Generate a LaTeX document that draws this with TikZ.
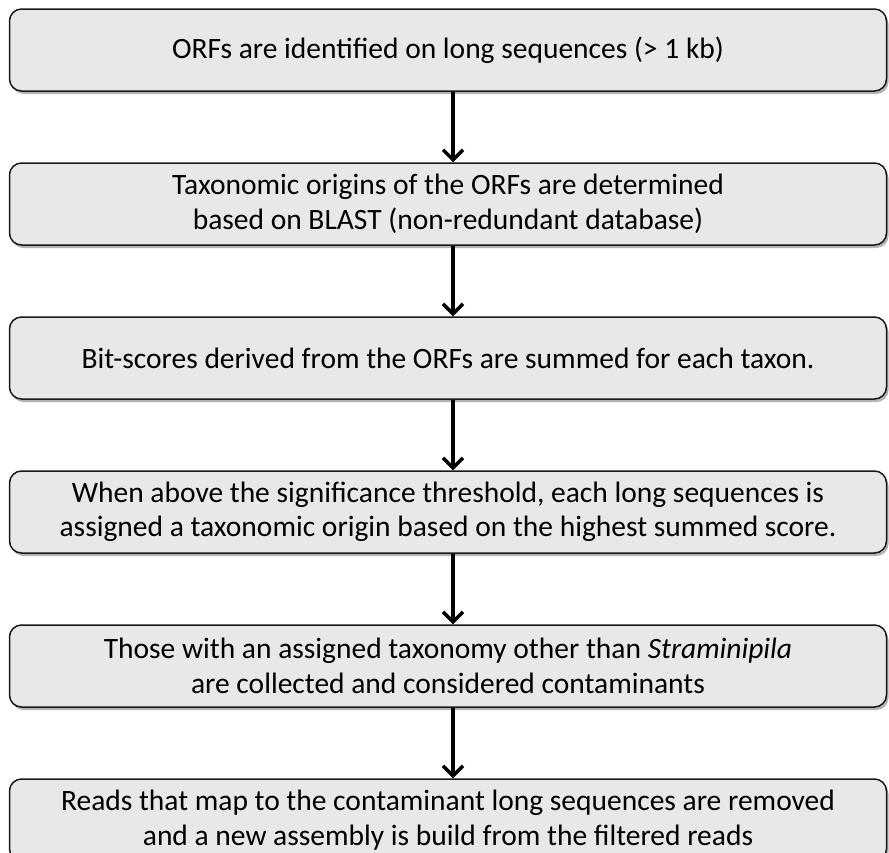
\documentclass[tikz,border=0pt]{standalone}
\usepackage{fontspec}
\setmainfont{Carlito}
\usetikzlibrary{arrows.meta,positioning,shadows}
\definecolor{boxgray}{RGB}{231,232,233}

\begin{document}
\begin{tikzpicture}
    [x=1pt, y=1pt, node distance=70.5pt,
    stepbox/.style = {shape=rectangle, rounded corners=12pt,
        draw=black!90, line width=1.5pt, fill=boxgray, align=center,
        minimum width=877pt, minimum height=82pt, inner sep=0pt,
        font=\fontsize{29.5}{34.5}\selectfont,
        drop shadow={shadow xshift=2pt, shadow yshift=-3pt, opacity=0.6}},
    flow/.style = {line width=3.5pt, -{Straight Barb[length=10pt, width=20pt]}}]
    \useasboundingbox (0,0) rectangle (889,-852);

    \node[stepbox] (orfs) at (448,-50) {ORFs are identified on long sequences (> 1 kb)};
    \node[stepbox, below=of orfs] (origin) {Taxonomic origins of the ORFs are determined\\ based on BLAST (non-redundant database)};
    \node[stepbox, below=of origin] (bitscore) {Bit-scores derived from the ORFs are summed for each taxon.};
    \node[stepbox, below=of bitscore] (assign) {When above the significance threshold, each long sequences is\\ assigned a taxonomic origin based on the highest summed score.};
    \node[stepbox, below=of assign] (contam) {Those with an assigned taxonomy other than \textit{Straminipila}\\ are collected and considered contaminants};
    \node[stepbox, below=of contam] (reads) {Reads that map to the contaminant long sequences are removed\\ and a new assembly is build from the filtered reads};

    \foreach \a/\b in {orfs/origin, origin/bitscore, bitscore/assign, assign/contam, contam/reads}
        \draw[flow] ([xshift=5pt]\a.south) -- ([xshift=5pt]\b.north);
\end{tikzpicture}
\end{document}
